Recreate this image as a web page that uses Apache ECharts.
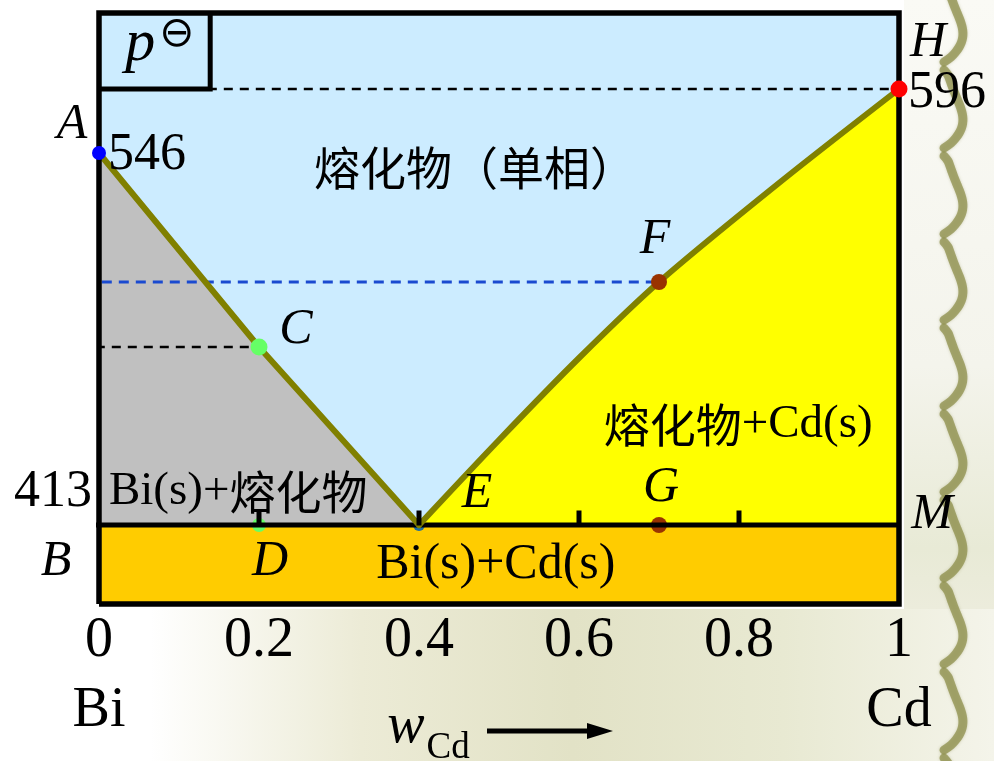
<!DOCTYPE html>
<html>
<head>
<meta charset="utf-8">
<script src="https://cdn.jsdelivr.net/npm/echarts/dist/echarts.min.js"></script>
<style>
  html, body { margin: 0; padding: 0; background: #ffffff; }
  #chart { width: 994px; height: 761px; }
</style>
</head>
<body>
<div id="chart"></div>
<script>
// ---------------- DATA ----------------
// composition axis: mass fraction of Cd
const xTicks = [0, 0.2, 0.4, 0.6, 0.8, 1];
const endMembers = ['Bi', 'Cd'];
// schematic temperature levels (the diagram is not drawn to scale)
const levelTop = 591;
const levelE = 79;      // eutectic line B–E–M (413)
const levelA = 451;     // melting point of Bi (546)
const levelH = 515;     // melting point of Cd (596)
const levelC = 257;
const levelF = 322;
const boxW = 0.139;     // right side of the p⊖ box
// liquidus, Bi side: A – C – E
const liqBiW = [0, 0.2, 0.4];
const liqBiY = [451, 257, 79];
// liquidus, Cd side: E – F – H
const liqCdW = [0.4, 0.5, 0.6, 0.7, 0.85, 1];
const liqCdY = [79, 164, 246, 322, 421, 515];
// named points
const pointNames = ['A', 'C', 'F', 'H', 'D', 'E', 'G', 'B', 'M'];
const pointW = [0, 0.2, 0.7, 1, 0.2, 0.4, 0.7, 0, 1];
const pointY = [451, 257, 322, 515, 79, 79, 79, 79, 79];
// temperatures
const tempPoints = ['A', 'H', 'B'];
const tempValues = ['546', '596', '413'];
// phase regions
const regionNames = ['熔化物（单相）', '熔化物+Cd(s)', 'Bi(s)+熔化物', 'Bi(s)+Cd(s)'];
// ticks marked on the eutectic line
const lineTicks = [0.2, 0.4, 0.6, 0.8];
// guide lines start at the left edge of the picture
const guideStartW = -0.124;

// ---------------- STYLE / LAYOUT ----------------
const SERIF = '"Liberation Serif", "Times New Roman", serif';
const CJK = '"Noto Sans CJK SC", sans-serif';

const pointStyle = {
  A: { color: '#0000FF', size: 14, off: [-27, -28] },
  C: { color: '#66FF66', size: 17, off: [37, -17] },
  F: { color: '#993300', size: 16, off: [-4, -42] },
  H: { color: '#FF0000', size: 17, off: [29, -46] },
  D: { color: '#66FF66', size: 14, off: [11, 37] },
  E: { color: '#1F6FA0', size: 12, off: [58, -31] },
  G: { color: '#993300', size: 16, off: [2, -37] },
  B: { color: null, size: 0, off: [-43, 37] },
  M: { color: null, size: 0, off: [33, -10] }
};
const tempOffset = { A: [48, 2], H: [48, 4], B: [-46, -33] };
const regionAnchor = [[0.47, 436], [0.799, 179], [0.174, 112], [0.496, 39]];
const regionRich = [
  '{c|熔化物（单相）}',
  '{c|熔化物}{l|+Cd(s)}',
  '{l|Bi(s)+}{c|熔化物}',
  '{b|Bi(s)+Cd(s)}'
];
const pLabelAnchor = [0.076, 560];
const noStroke = { textBorderWidth: 0, textBorderColor: 'transparent', textShadowBlur: 0 };
const hiddenItem = { color: 'rgba(0,0,0,0)', opacity: 1 };

const pts = (ws, ys) => ws.map((w, i) => [w, ys[i]]);
const idx = n => pointNames.indexOf(n);

function guide(toW, level, color, width, dash, z) {
  return {
    type: 'line', data: [[guideStartW, level], [toW, level]], symbol: 'none', clip: false,
    silent: true, z: z || 3,
    lineStyle: { color: color, width: width, type: dash }
  };
}
function textLabel(extra) {
  return Object.assign({ show: true, position: 'inside', color: '#000', opacity: 1 }, noStroke, extra);
}

const series = [
  // fills
  { type: 'line', data: pts(liqBiW, liqBiY), symbol: 'none', silent: true, z: 1,
    lineStyle: { width: 0 }, areaStyle: { color: '#C0C0C0', opacity: 1 } },
  { type: 'line', data: pts(liqCdW, liqCdY), symbol: 'none', silent: true, z: 1, smooth: 0.3,
    lineStyle: { width: 0 }, areaStyle: { color: '#FFFF00', opacity: 1 } },
  { type: 'line', data: [[0, levelE], [1, levelE]], symbol: 'none', silent: true, z: 2,
    lineStyle: { width: 0 }, areaStyle: { color: '#FFCC00', opacity: 1 } },
  // guide lines
  guide(1, levelH, '#000', 2.5, [9, 7]),
  guide(0, levelA, '#000', 2.5, [9, 7]),
  guide(pointW[idx('F')], levelF, '#1A4AD0', 3, [10, 7]),
  guide(pointW[idx('C')], levelC, '#000', 2.5, [9, 7]),
  guide(0, levelE, '#2E86B5', 2, 'solid'),
  guide(0, levelE, '#000', 5, [22, 19], 4),
  // small dots on the eutectic line (under the line)
  { type: 'scatter', silent: true, z: 3,
    data: ['D', 'E', 'G'].map(n => ({
      value: [pointW[idx(n)], pointY[idx(n)]],
      symbolSize: pointStyle[n].size,
      itemStyle: { color: pointStyle[n].color, opacity: 1 }
    })) },
  // eutectic line
  { type: 'line', data: [[0, levelE], [1, levelE]], symbol: 'none', silent: true, z: 4, clip: false,
    lineStyle: { color: '#000', width: 5 } },
  // liquidus lines
  { type: 'line', data: pts(liqBiW, liqBiY), symbol: 'none', silent: true, z: 5, clip: false,
    lineStyle: { color: '#808000', width: 6, cap: 'round', join: 'round' } },
  { type: 'line', data: pts(liqCdW, liqCdY), symbol: 'none', silent: true, z: 5, clip: false, smooth: 0.3,
    lineStyle: { color: '#808000', width: 6, cap: 'round', join: 'round' } },
  // ticks on the eutectic line
  { type: 'scatter', silent: true, z: 6, symbol: 'rect', symbolSize: [5, 15], symbolOffset: [0, -7],
    itemStyle: { color: '#000', opacity: 1 }, data: lineTicks.map(w => [w, levelE]) },
  // p⊖ box
  { type: 'line', data: [[0, levelH], [boxW, levelH], [boxW, levelTop]], symbol: 'none', silent: true,
    z: 6, clip: false, lineStyle: { color: '#000', width: 5, join: 'miter' } },
  // frame
  { type: 'line', data: [[0, 0], [1, 0], [1, levelTop], [0, levelTop], [0, 0]], symbol: 'none',
    silent: true, z: 7, clip: false, lineStyle: { color: '#000', width: 5.5, join: 'miter' } },
  // main points
  { type: 'scatter', silent: true, z: 8,
    data: ['A', 'C', 'F', 'H'].map(n => ({
      value: [pointW[idx(n)], pointY[idx(n)]],
      symbolSize: pointStyle[n].size,
      itemStyle: { color: pointStyle[n].color, opacity: 1 }
    })) },
  // point letters
  { type: 'scatter', silent: true, z: 9, symbolSize: 1, itemStyle: hiddenItem,
    data: pointNames.map((n, i) => ({
      value: [pointW[i], pointY[i]],
      label: textLabel({ offset: pointStyle[n].off, formatter: n,
        fontFamily: SERIF, fontStyle: 'italic', fontSize: 50 })
    })) },
  // temperature values
  { type: 'scatter', silent: true, z: 9, symbolSize: 1, itemStyle: hiddenItem,
    data: tempPoints.map((n, i) => ({
      value: [pointW[idx(n)], pointY[idx(n)]],
      label: textLabel({ offset: tempOffset[n], formatter: tempValues[i],
        fontFamily: SERIF, fontSize: 52 })
    })) },
  // phase region names
  { type: 'scatter', silent: true, z: 9, symbolSize: 1, itemStyle: hiddenItem,
    data: regionNames.map((n, i) => ({
      name: n,
      value: regionAnchor[i],
      label: textLabel({ formatter: regionRich[i],
        rich: {
          c: Object.assign({ fontFamily: CJK, fontSize: 46, color: '#000' }, noStroke),
          l: Object.assign({ fontFamily: SERIF, fontSize: 47, color: '#000' }, noStroke),
          b: Object.assign({ fontFamily: SERIF, fontSize: 50, color: '#000' }, noStroke)
        } })
    })) },
  // p⊖ label
  { type: 'scatter', silent: true, z: 9, symbolSize: 1, itemStyle: hiddenItem,
    data: [{ value: pLabelAnchor,
      label: textLabel({ formatter: '{p|p}{s|⊖}',
        rich: {
          p: Object.assign({ fontFamily: SERIF, fontStyle: 'italic', fontSize: 60, lineHeight: 60, color: '#000' }, noStroke),
          s: Object.assign({ fontFamily: '"DejaVu Sans", sans-serif', fontSize: 42, lineHeight: 36,
               verticalAlign: 'top', padding: [0, 0, 24, 4], color: '#000' }, noStroke)
        } }) }] }
];

// ---------------- BACKGROUND DECORATION ----------------
const ribbon = [];
for (let y0 = -20; y0 < 790; y0 += 86) {
  const p = [];
  for (let k = 0; k <= 16; k++) {
    const t = k / 16;
    const x = 944 + 17 * Math.pow(Math.sin(Math.PI * t), 0.7) - 4 * Math.sin(2 * Math.PI * t);
    p.push([x, y0 + 4 + t * 78]);
  }
  ribbon.push({
    type: 'polyline', z: -5, silent: true, shape: { points: p, smooth: 0.4 },
    style: { fill: null, stroke: 'rgba(140,142,74,0.72)', lineWidth: 9, lineCap: 'round',
             shadowBlur: 3, shadowColor: 'rgba(140,142,74,0.5)' }
  });
}

const chart = echarts.init(document.getElementById('chart'), null, { renderer: 'canvas' });
chart.setOption({
  animation: false,
  backgroundColor: '#ffffff',
  grid: { left: 99, right: 95, top: 13, bottom: 157, show: true, backgroundColor: '#CCECFF',
    borderWidth: 0, containLabel: false, outerBoundsMode: 'none' },
  xAxis: {
    type: 'value', min: 0, max: 1, interval: 0.2,
    axisLine: { show: false }, axisTick: { show: false }, splitLine: { show: false },
    axisLabel: {
      margin: 2, fontFamily: SERIF, fontSize: 56, lineHeight: 70, color: '#000',
      formatter: v => {
        if (Math.abs(v) < 1e-9) return '0\n' + endMembers[0];
        if (Math.abs(v - 1) < 1e-9) return '1\n' + endMembers[1];
        return String(+v.toFixed(1));
      }
    },
    name: '{w|w}{sub|Cd}',
    nameLocation: 'middle',
    nameGap: 95,
    nameMoveOverlap: false,
    nameTextStyle: {
      padding: [0, 141, 0, 0],
      rich: {
        w: { fontFamily: SERIF, fontStyle: 'italic', fontSize: 56, lineHeight: 56,
             verticalAlign: 'top', color: '#000' },
        sub: { fontFamily: SERIF, fontSize: 37, lineHeight: 68, padding: [0, 0, 0, 2],
               verticalAlign: 'bottom', color: '#000' }
      }
    }
  },
  yAxis: { type: 'value', min: 0, max: levelTop, show: false },
  graphic: [
    { type: 'rect', z: -10, silent: true, shape: { x: 150, y: 609, width: 844, height: 152 },
      style: { fill: new echarts.graphic.LinearGradient(0, 0, 1, 0, [
        { offset: 0, color: 'rgba(255,255,255,1)' },
        { offset: 0.25, color: 'rgba(236,235,214,1)' },
        { offset: 0.5, color: 'rgba(226,226,198,1)' },
        { offset: 0.75, color: 'rgba(232,233,210,1)' },
        { offset: 1, color: 'rgba(244,244,234,1)' }]) } },
    { type: 'rect', z: -10, silent: true, shape: { x: 904, y: 0, width: 90, height: 609 },
      style: { fill: new echarts.graphic.LinearGradient(0, 0, 0, 1, [
        { offset: 0, color: 'rgba(250,250,245,1)' },
        { offset: 0.6, color: 'rgba(244,244,236,1)' },
        { offset: 0.9, color: 'rgba(232,234,214,1)' },
        { offset: 1, color: 'rgba(236,236,220,1)' }]) } }
  ].concat(ribbon).concat([
    { type: 'line', z: 10, silent: true, shape: { x1: 487, y1: 731, x2: 592, y2: 731 },
      style: { stroke: '#000', lineWidth: 5 } },
    { type: 'polygon', z: 10, silent: true, shape: { points: [[587, 723], [613, 731], [587, 739]] },
      style: { fill: '#000' } }
  ]),
  series: series
});
</script>
</body>
</html>
